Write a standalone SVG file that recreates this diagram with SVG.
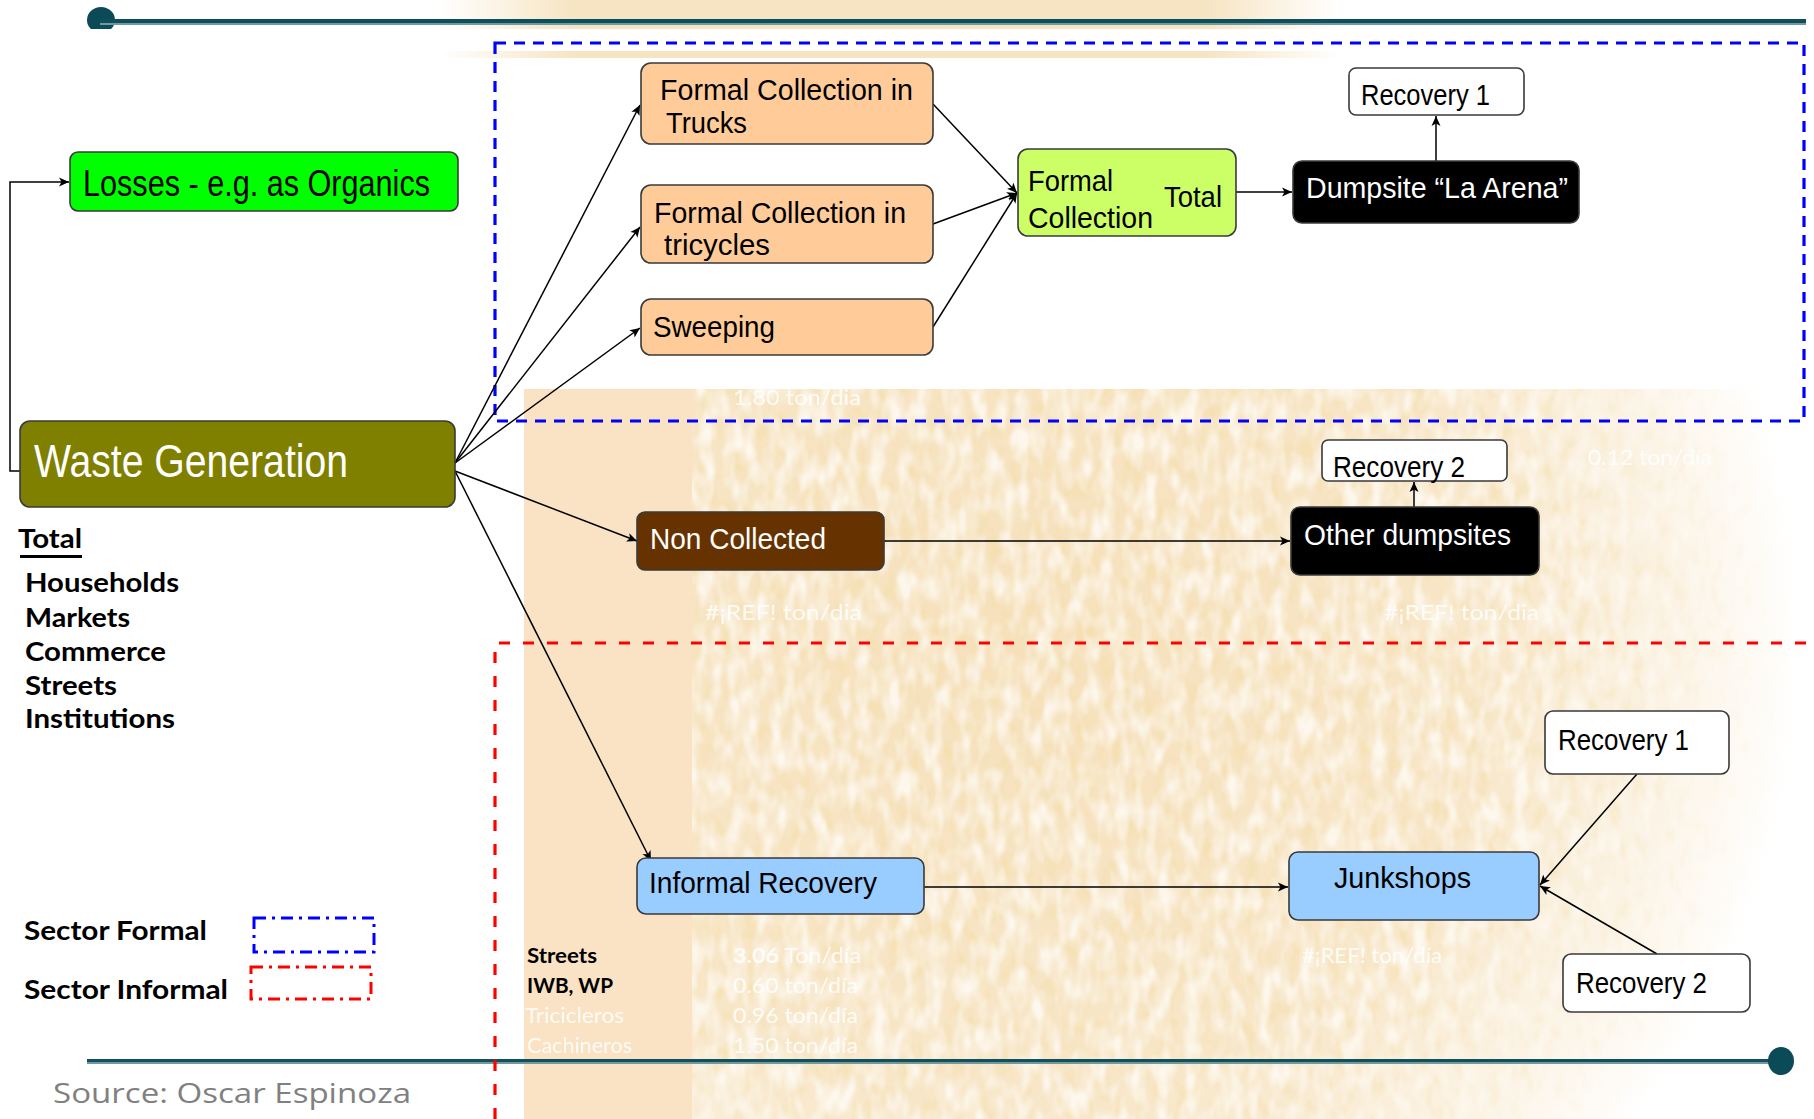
<svg xmlns="http://www.w3.org/2000/svg" width="1814" height="1119" viewBox="0 0 1814 1119">
<defs>
<style>
.box{stroke:#3a3a3a;stroke-width:1.6}
.n{font-family:"Liberation Sans Narrow","Liberation Sans",Arial,sans-serif}
.w{fill:#ffffff}
.k{fill:#000000}
.cal{font-family:Lato,"Liberation Sans",sans-serif;font-weight:bold;fill:#000}
.faint{font-family:Lato,"Liberation Sans",sans-serif;font-size:21px;fill:#ffffff;opacity:0.85}
.conn{fill:none;stroke:#000;stroke-width:1.5}
</style>
<marker id="ah" markerUnits="userSpaceOnUse" markerWidth="11" markerHeight="10" refX="10" refY="5" orient="auto">
<path d="M0,0.5 L10,5 L0,9.5 L2.5,5 z" fill="#000"/>
</marker>
<radialGradient id="bgR" cx="1020" cy="640" r="780" gradientUnits="userSpaceOnUse">
<stop offset="0" stop-color="#f4d9aa" stop-opacity="0.8"/>
<stop offset="0.6" stop-color="#f4d9aa" stop-opacity="0.65"/>
<stop offset="0.85" stop-color="#f4d9aa" stop-opacity="0.3"/>
<stop offset="1" stop-color="#f4d9aa" stop-opacity="0"/>
</radialGradient>
<radialGradient id="maskG" cx="1020" cy="640" r="780" gradientUnits="userSpaceOnUse">
<stop offset="0" stop-color="#fff"/>
<stop offset="0.65" stop-color="#fff"/>
<stop offset="1" stop-color="#000"/>
</radialGradient>
<mask id="fade" maskUnits="userSpaceOnUse" x="0" y="0" width="1814" height="1119">
<rect x="0" y="0" width="1814" height="1119" fill="url(#maskG)"/>
</mask>
<linearGradient id="topG" x1="440" y1="0" x2="1340" y2="0" gradientUnits="userSpaceOnUse">
<stop offset="0" stop-color="#f3d9a8" stop-opacity="0"/>
<stop offset="0.15" stop-color="#f3d9a8" stop-opacity="0.7"/>
<stop offset="0.85" stop-color="#f3d9a8" stop-opacity="0.7"/>
<stop offset="1" stop-color="#f3d9a8" stop-opacity="0"/>
</linearGradient>
<filter id="mottle" x="0" y="0" width="1" height="1">
<feTurbulence type="fractalNoise" baseFrequency="0.07 0.035" numOctaves="2" seed="4" result="t"/>
<feColorMatrix in="t" type="matrix" values="0 0 0 0 1  0 0 0 0 1  0 0 0 0 1  0 0 0 -2.6 1.6" result="m"/>
<feComposite in="m" in2="SourceGraphic" operator="in"/>
</filter>
<filter id="gold" x="0" y="0" width="1" height="1">
<feTurbulence type="fractalNoise" baseFrequency="0.09 0.05" numOctaves="2" seed="11" result="t"/>
<feColorMatrix in="t" type="matrix" values="0 0 0 0 0.9  0 0 0 0 0.72  0 0 0 0 0.36  0 0 0 3.2 -1.55" result="m"/>
<feComposite in="m" in2="SourceGraphic" operator="in"/>
</filter>
<clipPath id="topClip"><rect x="0" y="0" width="1814" height="29"/></clipPath>
</defs>

<rect x="0" y="0" width="1814" height="1119" fill="#ffffff"/>

<g id="background">
<rect x="440" y="0" width="900" height="29" fill="url(#topG)"/>
<rect x="400" y="51" width="970" height="7" fill="url(#topG)"/>
<rect x="524" y="389" width="1290" height="730" fill="url(#bgR)"/>
<rect x="524" y="389" width="168" height="730" fill="#f9e3c4"/>
<g mask="url(#fade)">
<rect x="692" y="389" width="1122" height="730" fill="#e6b85c" filter="url(#gold)" opacity="0.45"/>
<rect x="692" y="389" width="1122" height="730" fill="#ffffff" filter="url(#mottle)" opacity="0.7"/>
</g>
</g>

<g id="decor">
<g clip-path="url(#topClip)"><ellipse cx="101" cy="20" rx="14" ry="13" fill="#0b4a57"/></g>
<rect x="100" y="19" width="1706" height="4" fill="#0f4f5b"/>
<rect x="100" y="23" width="1706" height="2" fill="#6f9aa0"/>
<rect x="87" y="1059" width="1694" height="3" fill="#14505c"/>
<rect x="87" y="1062" width="1694" height="2" fill="#6f9aa0"/>
<ellipse cx="1781" cy="1061" rx="13" ry="14" fill="#0b4a57"/>
</g>

<g id="sector-formal-frame"><rect x="495" y="43" width="1309" height="378" fill="none" stroke="#0000ff" stroke-width="3.2" stroke-dasharray="11,8"/></g>
<g id="sector-informal-frame"><path d="M495,1119 V643 H1814" fill="none" stroke="#ff0000" stroke-width="3.2" stroke-dasharray="11,13"/></g>

<g id="faint-labels">
<text class="faint" x="733" y="405" textLength="128" lengthAdjust="spacingAndGlyphs">1.80  ton/dia</text>
<text class="faint" x="1588" y="465" textLength="124" lengthAdjust="spacingAndGlyphs">0.12  ton/día</text>
<text class="faint" x="705" y="620" textLength="157" lengthAdjust="spacingAndGlyphs">#¡REF!   ton/dia</text>
<text class="faint" x="1384" y="620" textLength="155" lengthAdjust="spacingAndGlyphs">#¡REF!   ton/dia</text>
<text class="faint" x="1302" y="963" textLength="140" lengthAdjust="spacingAndGlyphs">#¡REF!   ton/día</text>
<text class="faint" x="733" y="963" textLength="128" lengthAdjust="spacingAndGlyphs"><tspan font-weight="bold">3.06</tspan>  Ton/día</text>
<text class="faint" x="733" y="993" textLength="125" lengthAdjust="spacingAndGlyphs">0.60  ton/día</text>
<text class="faint" x="733" y="1023" textLength="125" lengthAdjust="spacingAndGlyphs">0.96  ton/día</text>
<text class="faint" x="733" y="1053" textLength="125" lengthAdjust="spacingAndGlyphs">1.50  ton/día</text>
<text class="faint" x="525" y="1023" textLength="99" lengthAdjust="spacingAndGlyphs">Tricicleros</text>
<text class="faint" x="527" y="1053" textLength="105" lengthAdjust="spacingAndGlyphs">Cachineros</text>
</g>

<g id="connectors">
<path class="conn" d="M20,471 H10 V182 H69" marker-end="url(#ah)"/>
<path class="conn" d="M455,463 L640,105" marker-end="url(#ah)"/>
<path class="conn" d="M455,463 L640,227" marker-end="url(#ah)"/>
<path class="conn" d="M455,463 L640,328" marker-end="url(#ah)"/>
<path class="conn" d="M455,471 L637,541" marker-end="url(#ah)"/>
<path class="conn" d="M455,471 L651,861" marker-end="url(#ah)"/>
<path class="conn" d="M933,104 L1017,193" marker-end="url(#ah)"/>
<path class="conn" d="M933,224 L1017,193" marker-end="url(#ah)"/>
<path class="conn" d="M933,327 L1017,193" marker-end="url(#ah)"/>
<path class="conn" d="M1236,192 H1292" marker-end="url(#ah)"/>
<path class="conn" d="M1436,161 V116" marker-end="url(#ah)"/>
<path class="conn" d="M884,541 H1290" marker-end="url(#ah)"/>
<path class="conn" d="M1414,507 V482" marker-end="url(#ah)"/>
<path class="conn" d="M924,887 H1288" marker-end="url(#ah)"/>
<path class="conn" d="M1637,774 L1540,885" marker-end="url(#ah)"/>
<path class="conn" d="M1657,954 L1540,886" marker-end="url(#ah)"/>
</g>

<g id="losses">
<rect class="box" x="70" y="152" width="388" height="59" rx="8" fill="#00ff00"/>
<text class="n k" x="83" y="196" style="font-size:36px" textLength="347" lengthAdjust="spacingAndGlyphs">Losses - e.g. as Organics</text>
</g>

<g id="waste-generation">
<rect class="box" x="20" y="421" width="435" height="86" rx="10" fill="#808000"/>
<text class="n w" x="34" y="477" style="font-size:46px" textLength="314" lengthAdjust="spacingAndGlyphs">Waste Generation</text>
</g>

<g id="trucks">
<rect class="box" x="641" y="63" width="292" height="81" rx="10" fill="#ffcc99"/>
<text class="n k" x="660" y="100" style="font-size:29px" textLength="253" lengthAdjust="spacingAndGlyphs">Formal Collection in</text>
<text class="n k" x="666" y="133" style="font-size:29px" textLength="81" lengthAdjust="spacingAndGlyphs">Trucks</text>
</g>

<g id="tricycles">
<rect class="box" x="641" y="185" width="292" height="78" rx="10" fill="#ffcc99"/>
<text class="n k" x="654" y="223" style="font-size:29px" textLength="252" lengthAdjust="spacingAndGlyphs">Formal Collection in</text>
<text class="n k" x="664" y="255" style="font-size:29px" textLength="106" lengthAdjust="spacingAndGlyphs">tricycles</text>
</g>

<g id="sweeping">
<rect class="box" x="641" y="299" width="292" height="56" rx="10" fill="#ffcc99"/>
<text class="n k" x="653" y="337" style="font-size:30px" textLength="122" lengthAdjust="spacingAndGlyphs">Sweeping</text>
</g>

<g id="formal-collection">
<rect class="box" x="1018" y="149" width="218" height="87" rx="10" fill="#ccff66"/>
<text class="n k" x="1028" y="191" style="font-size:29px" textLength="85" lengthAdjust="spacingAndGlyphs">Formal</text>
<text class="n k" x="1028" y="228" style="font-size:29px" textLength="125" lengthAdjust="spacingAndGlyphs">Collection</text>
<text class="n k" x="1164" y="207" style="font-size:29px" textLength="58" lengthAdjust="spacingAndGlyphs">Total</text>
</g>

<g id="dumpsite">
<rect class="box" x="1293" y="161" width="286" height="62" rx="9" fill="#000000"/>
<text class="n w" x="1306" y="198" style="font-size:29px" textLength="262" lengthAdjust="spacingAndGlyphs">Dumpsite “La Arena”</text>
</g>

<g id="recovery1-formal">
<rect class="box" x="1349" y="68" width="175" height="47" rx="7" fill="#ffffff"/>
<text class="n k" x="1361" y="105" style="font-size:29px" textLength="129" lengthAdjust="spacingAndGlyphs">Recovery 1</text>
</g>

<g id="non-collected">
<rect class="box" x="637" y="512" width="247" height="58" rx="8" fill="#663300"/>
<text class="n w" x="650" y="549" style="font-size:30px" textLength="176" lengthAdjust="spacingAndGlyphs">Non Collected</text>
</g>

<g id="other-dumpsites">
<rect class="box" x="1291" y="507" width="248" height="68" rx="9" fill="#000000"/>
<text class="n w" x="1304" y="545" style="font-size:30px" textLength="207" lengthAdjust="spacingAndGlyphs">Other dumpsites</text>
</g>

<g id="recovery2-noncollected">
<rect class="box" x="1322" y="440" width="185" height="41" rx="6" fill="#ffffff"/>
<text class="n k" x="1333" y="477" style="font-size:29px" textLength="132" lengthAdjust="spacingAndGlyphs">Recovery 2</text>
</g>

<g id="informal-recovery">
<rect class="box" x="637" y="858" width="287" height="56" rx="9" fill="#99ccff"/>
<text class="n k" x="649" y="893" style="font-size:29px" textLength="228" lengthAdjust="spacingAndGlyphs">Informal Recovery</text>
</g>

<g id="junkshops">
<rect class="box" x="1289" y="852" width="250" height="68" rx="9" fill="#99ccff"/>
<text class="n k" x="1334" y="888" style="font-size:29px" textLength="137" lengthAdjust="spacingAndGlyphs">Junkshops</text>
</g>

<g id="recovery1-informal">
<rect class="box" x="1545" y="711" width="184" height="63" rx="8" fill="#ffffff"/>
<text class="n k" x="1558" y="750" style="font-size:30px" textLength="131" lengthAdjust="spacingAndGlyphs">Recovery 1</text>
</g>

<g id="recovery2-informal">
<rect class="box" x="1563" y="954" width="187" height="58" rx="8" fill="#ffffff"/>
<text class="n k" x="1576" y="993" style="font-size:30px" textLength="131" lengthAdjust="spacingAndGlyphs">Recovery 2</text>
</g>

<g id="sources-list">
<text class="cal" x="18" y="548" font-size="27" textLength="64" lengthAdjust="spacingAndGlyphs">Total</text>
<rect x="20" y="555" width="62" height="3" fill="#000"/>
<text class="cal" x="25" y="592" font-size="27" textLength="154" lengthAdjust="spacingAndGlyphs">Households</text>
<text class="cal" x="25" y="627" font-size="27" textLength="105" lengthAdjust="spacingAndGlyphs">Markets</text>
<text class="cal" x="25" y="661" font-size="27" textLength="141" lengthAdjust="spacingAndGlyphs">Commerce</text>
<text class="cal" x="25" y="695" font-size="27" textLength="92" lengthAdjust="spacingAndGlyphs">Streets</text>
<text class="cal" x="25" y="728" font-size="27" textLength="150" lengthAdjust="spacingAndGlyphs">Institutions</text>
</g>

<g id="informal-list">
<text class="cal" x="527" y="963" font-size="21" textLength="70" lengthAdjust="spacingAndGlyphs">Streets</text>
<text class="cal" x="527" y="993" font-size="21" textLength="86" lengthAdjust="spacingAndGlyphs">IWB, WP</text>
</g>

<g id="legend">
<text class="cal" x="24" y="940" font-size="27" textLength="183" lengthAdjust="spacingAndGlyphs">Sector Formal</text>
<rect x="254" y="918" width="120" height="34" fill="none" stroke="#0000ff" stroke-width="3" stroke-dasharray="12,6,3,6"/>
<text class="cal" x="24" y="999" font-size="27" textLength="204" lengthAdjust="spacingAndGlyphs">Sector Informal</text>
<rect x="251" y="967" width="120" height="32" fill="none" stroke="#ff0000" stroke-width="3" stroke-dasharray="12,6,3,6"/>
</g>

<g id="source">
<text x="53" y="1103" font-family="'Open Sans','Liberation Sans',sans-serif" font-size="28" fill="#808080" textLength="358" lengthAdjust="spacingAndGlyphs">Source: Oscar Espinoza</text>
</g>
</svg>
